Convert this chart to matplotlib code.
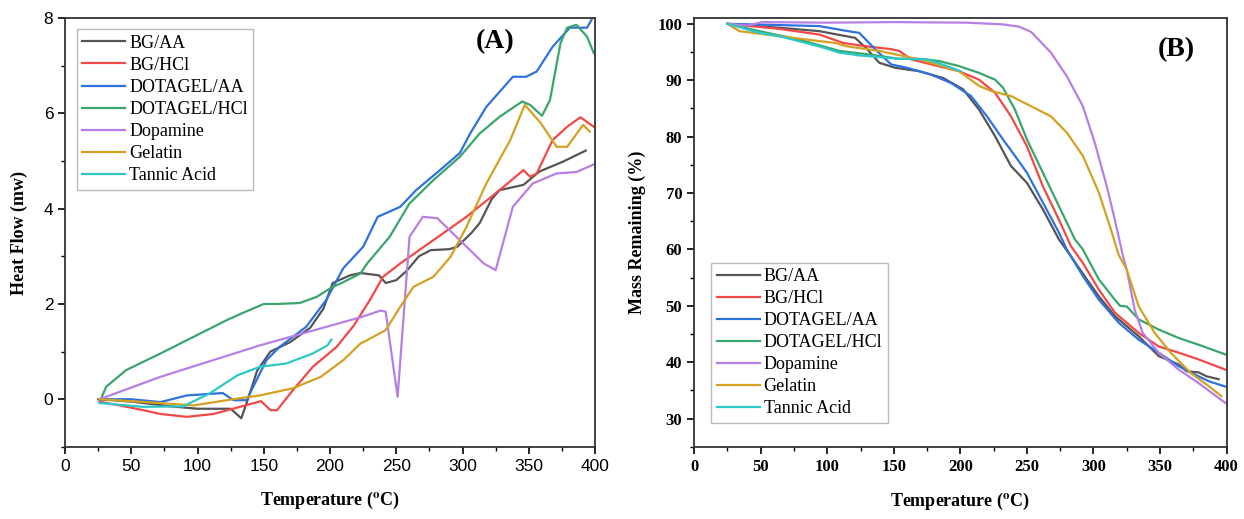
import matplotlib.pyplot as plt
from matplotlib.ticker import MultipleLocator

# Panel A: DSC heat flow (mW) vs temperature (C)
bgaa_t = [25, 50, 80, 100, 125, 133, 138, 145, 155, 170, 185, 195, 202, 215, 223, 237, 242, 250, 258, 267, 276, 290, 296, 307, 313, 322, 328, 346, 358, 376, 393]
bgaa_y = [0, -0.05, -0.15, -0.2, -0.2, -0.4, 0.0, 0.6, 1.0, 1.2, 1.5, 1.9, 2.44, 2.6, 2.65, 2.6, 2.44, 2.5, 2.7, 3.0, 3.13, 3.15, 3.2, 3.5, 3.7, 4.2, 4.39, 4.5, 4.78, 4.99, 5.22]

bghcl_t = [26, 54, 72, 92, 112, 132, 148, 155, 160, 172, 187, 205, 218, 230, 240, 253, 278, 303, 328, 346, 351, 356, 368, 379, 389, 399]
bghcl_y = [-0.05, -0.2, -0.31, -0.37, -0.31, -0.16, -0.04, -0.23, -0.23, 0.19, 0.68, 1.1, 1.55, 2.08, 2.57, 2.85, 3.34, 3.83, 4.39, 4.81, 4.67, 4.74, 5.44, 5.72, 5.92, 5.72]

dgaa_t = [26, 50, 72, 92, 119, 127, 137, 152, 162, 182, 197, 210, 225, 236, 245, 253, 265, 283, 298, 306, 318, 338, 348, 356, 368, 381, 394, 398]
dgaa_y = [0, 0, -0.06, 0.08, 0.13, -0.02, -0.02, 0.82, 1.1, 1.52, 2.08, 2.75, 3.2, 3.83, 3.94, 4.04, 4.39, 4.81, 5.17, 5.59, 6.14, 6.77, 6.77, 6.88, 7.4, 7.8, 7.8, 8.0]

dghcl_t = [27, 31, 46, 72, 97, 122, 134, 150, 160, 177, 190, 202, 208, 223, 228, 245, 260, 278, 298, 313, 328, 345, 351, 360, 366, 374, 379, 386, 394, 399]
dghcl_y = [0, 0.26, 0.61, 0.96, 1.31, 1.66, 1.81, 2.0, 2.0, 2.02, 2.15, 2.36, 2.43, 2.64, 2.85, 3.41, 4.11, 4.6, 5.09, 5.58, 5.93, 6.25, 6.18, 5.95, 6.28, 7.48, 7.8, 7.86, 7.61, 7.27]

dopa_t = [26, 72, 147, 223, 238, 242, 251, 260, 270, 281, 316, 325, 338, 353, 371, 386, 399]
dopa_y = [0, 0.47, 1.13, 1.72, 1.86, 1.84, 0.05, 3.41, 3.83, 3.8, 2.85, 2.71, 4.04, 4.53, 4.74, 4.77, 4.93]

gel_t = [26, 72, 97, 122, 147, 172, 193, 210, 223, 228, 242, 253, 263, 278, 291, 303, 318, 336, 347, 359, 371, 379, 391, 396]
gel_y = [0, -0.08, -0.13, -0.02, 0.08, 0.23, 0.47, 0.82, 1.17, 1.24, 1.45, 1.94, 2.36, 2.57, 2.99, 3.62, 4.53, 5.44, 6.18, 5.8, 5.3, 5.3, 5.76, 5.62]

tan_t = [26, 59, 89, 109, 130, 147, 167, 187, 198, 201]
tan_y = [-0.08, -0.16, -0.15, 0.12, 0.5, 0.68, 0.75, 0.96, 1.13, 1.25]

# Panel B: TGA mass remaining (%) vs temperature (C)
bgaa_bt = [25, 64, 94, 121, 130, 139, 151, 169, 187, 202, 214, 226, 238, 250, 262, 274, 283, 295, 304, 316, 334, 349, 364, 370, 379, 385, 394]
bgaa_by = [100, 99.3, 98.7, 97.5, 95.5, 93.1, 92.2, 91.6, 90.4, 88.4, 84.8, 80.1, 74.8, 71.8, 67.1, 61.8, 58.8, 54.7, 51.7, 48.2, 44.6, 41.1, 39.6, 38.4, 38.2, 37.5, 37.0]

bghcl_bt = [25, 64, 94, 112, 130, 148, 154, 163, 178, 199, 214, 226, 238, 250, 262, 274, 283, 292, 304, 316, 334, 349, 364, 379, 399]
bghcl_by = [100, 99.1, 98.1, 96.6, 96.0, 95.5, 95.2, 93.7, 92.8, 91.6, 90.1, 87.8, 83.6, 78.3, 71.2, 65.3, 60.6, 57.6, 52.9, 48.8, 45.2, 42.8, 41.7, 40.5, 38.7]

dgaa_bt = [25, 94, 118, 124, 136, 148, 160, 178, 193, 208, 220, 232, 241, 250, 262, 274, 280, 292, 304, 319, 334, 349, 364, 379, 387, 399]
dgaa_by = [100, 99.6, 98.6, 98.4, 95.5, 92.8, 92.2, 91.0, 89.5, 87.2, 83.6, 79.5, 76.6, 73.6, 68.3, 63.0, 60.0, 55.3, 51.1, 47.0, 44.0, 41.7, 39.3, 37.5, 36.6, 35.7]

dghcl_bt = [25, 49, 79, 109, 130, 154, 169, 184, 199, 214, 226, 232, 241, 250, 262, 274, 286, 292, 304, 316, 320, 325, 334, 349, 364, 379, 399]
dghcl_by = [100, 98.7, 97.2, 95.2, 94.6, 93.8, 93.8, 93.4, 92.5, 91.3, 90.1, 88.7, 84.8, 79.5, 73.6, 67.7, 61.8, 60.0, 54.7, 51.1, 50.0, 49.9, 47.6, 45.8, 44.3, 43.1, 41.4]

dopa_bt = [25, 40, 51, 100, 150, 205, 232, 244, 253, 268, 280, 292, 301, 310, 316, 322, 325, 331, 337, 349, 364, 379, 399]
dopa_by = [100, 99.7, 100.3, 100.2, 100.3, 100.2, 99.9, 99.5, 98.6, 94.9, 90.7, 85.4, 78.9, 71.2, 65.3, 59.0, 56.4, 49.3, 45.2, 41.7, 38.7, 36.3, 32.8]

gel_bt = [25, 34, 64, 106, 115, 139, 169, 199, 214, 223, 238, 253, 268, 280, 292, 304, 313, 319, 325, 334, 346, 358, 373, 387, 396]
gel_by = [100, 98.7, 97.8, 96.6, 96.0, 95.2, 93.7, 91.6, 89.0, 88.1, 87.2, 85.4, 83.6, 80.7, 76.6, 70.1, 63.6, 59.0, 56.4, 49.9, 45.2, 41.7, 38.1, 35.7, 34.0]

tan_bt = [25, 49, 64, 94, 109, 124, 154, 175, 190, 200]
tan_by = [100, 98.4, 97.8, 96.0, 94.9, 94.4, 93.8, 93.7, 92.5, 91.6]

labels = ['BG/AA', 'BG/HCl', 'DOTAGEL/AA', 'DOTAGEL/HCl', 'Dopamine', 'Gelatin', 'Tannic Acid']
colors = ['#555555', '#f24848', '#2f72de', '#3aa56c', '#b77fe6', '#d4a122', '#2cc8c8']

plt.rcParams['mathtext.fontset'] = 'stix'
serif = 'Liberation Serif'

fig = plt.figure(figsize=(12.44, 5.19), dpi=100)
axA = fig.add_axes([0.0523, 0.139, 0.426, 0.826])
axB = fig.add_axes([0.558, 0.139, 0.428, 0.826])

seriesA = [(bgaa_t, bgaa_y), (bghcl_t, bghcl_y), (dgaa_t, dgaa_y), (dghcl_t, dghcl_y),
           (dopa_t, dopa_y), (gel_t, gel_y), (tan_t, tan_y)]
seriesB = [(bgaa_bt, bgaa_by), (bghcl_bt, bghcl_by), (dgaa_bt, dgaa_by), (dghcl_bt, dghcl_by),
           (dopa_bt, dopa_by), (gel_bt, gel_by), (tan_bt, tan_by)]

for (t, y), lab, c in zip(seriesA, labels, colors):
    axA.plot(t, y, color=c, lw=1.6, label=lab)
for (t, y), lab, c in zip(seriesB, labels, colors):
    axB.plot(t, y, color=c, lw=1.6, label=lab)

for ax in (axA, axB):
    ax.set_xlim(0, 400)
    ax.xaxis.set_major_locator(MultipleLocator(50))
    ax.xaxis.set_minor_locator(MultipleLocator(25))
    ax.tick_params(which='major', direction='out', length=5, width=1.2)
    ax.tick_params(which='minor', direction='out', length=3, width=1.0)
    for s in ax.spines.values():
        s.set_linewidth(1.3)
        s.set_color('#333333')
    ax.set_xlabel('Temperature ($^{\\mathbf{o}}$C)', fontfamily=serif, fontweight='bold', fontsize=13, labelpad=12)

axA.set_ylim(-1, 8)
axA.yaxis.set_major_locator(MultipleLocator(2))
axA.yaxis.set_minor_locator(MultipleLocator(1))
for lab in axA.get_xticklabels() + axA.get_yticklabels():
    lab.set_fontfamily('Liberation Sans')
    lab.set_fontsize(12.5)
axA.set_ylabel('Heat Flow (mw)', fontfamily=serif, fontweight='bold', fontsize=13, labelpad=11)
axA.text(0.775, 0.975, '(A)', transform=axA.transAxes, fontfamily=serif, fontweight='bold', fontsize=20, va='top')
legA = axA.legend(loc='upper left', bbox_to_anchor=(0.005, 0.995), prop={'family': serif, 'size': 13},
                  labelspacing=0.28, handlelength=2.4, handletextpad=0.2, borderpad=0.3, fancybox=False)
legA.get_frame().set_edgecolor('#aaaaaa')

axB.set_ylim(25, 101)
axB.yaxis.set_major_locator(MultipleLocator(10))
axB.yaxis.set_minor_locator(MultipleLocator(5))
for lab in axB.get_xticklabels() + axB.get_yticklabels():
    lab.set_fontfamily(serif)
    lab.set_fontweight('bold')
    lab.set_fontsize(12)
axB.set_ylabel('Mass Remaining (%)', fontfamily=serif, fontweight='bold', fontsize=13, labelpad=8)
axB.text(0.87, 0.955, '(B)', transform=axB.transAxes, fontfamily=serif, fontweight='bold', fontsize=20, va='top')
legB = axB.legend(loc='lower left', bbox_to_anchor=(0.015, 0.035), prop={'family': serif, 'size': 13},
                  labelspacing=0.28, handlelength=2.4, handletextpad=0.2, borderpad=0.3, fancybox=False)
legB.get_frame().set_edgecolor('#aaaaaa')

plt.savefig('out.png', dpi=100)
